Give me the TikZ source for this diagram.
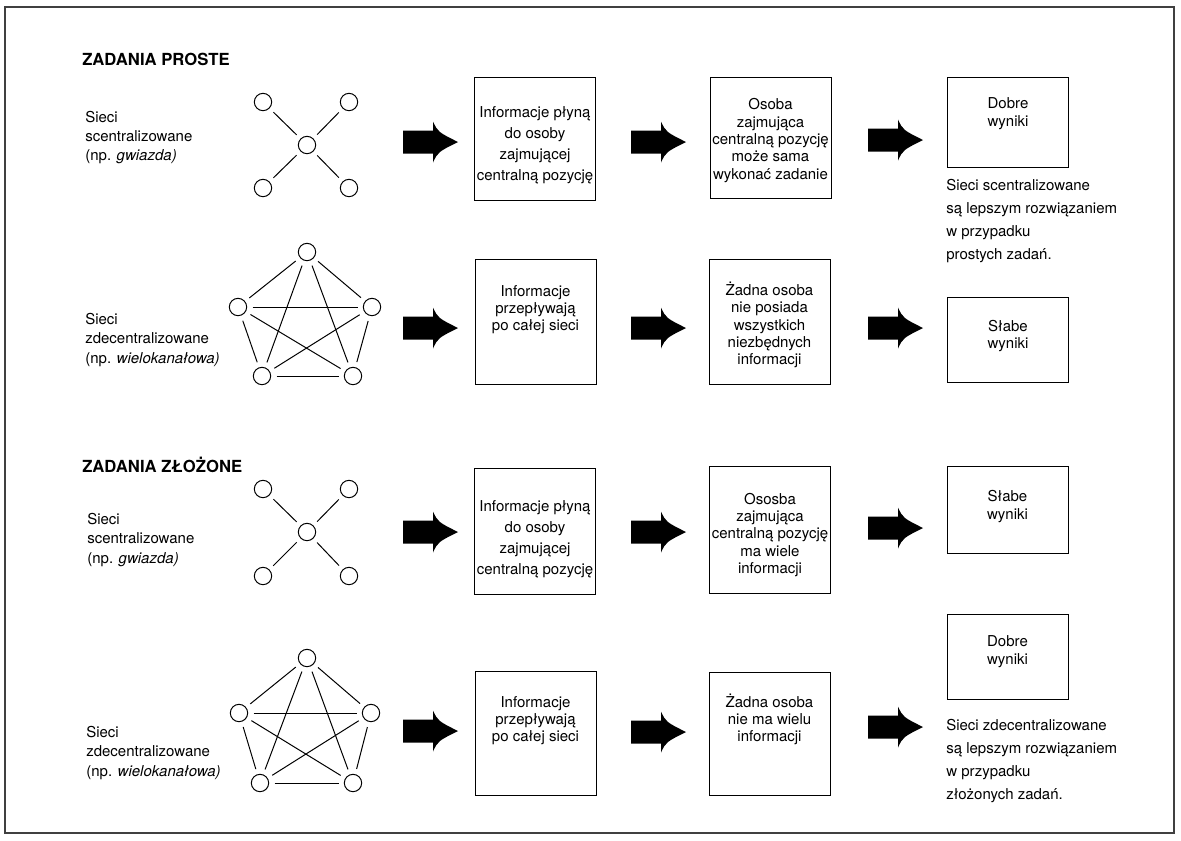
\documentclass[tikz,border=0pt]{standalone}
\usepackage{fontspec}
\setmainfont{TeX Gyre Heros}
\tikzset{
  dot/.style={draw,circle,line width=0.75pt,minimum size=13pt,inner sep=0pt},
  edge/.style={line width=0.75pt,shorten >=4pt,shorten <=4pt},
  box/.style={draw,line width=0.75pt,minimum width=90.75pt,inner sep=0pt},
  boxtxt/.style={align=center,inner sep=0pt,font=\fontsize{11.25}{13}\selectfont},
  widetxt/.style={align=center,inner sep=0pt,font=\fontsize{11.25}{15.75}\selectfont},
  lab/.style={align=left,anchor=west,inner sep=0pt,font=\fontsize{11.25}{14.6}\selectfont},
  note/.style={align=left,anchor=west,inner sep=0pt,font=\fontsize{11.25}{17.25}\selectfont},
  head/.style={anchor=west,inner sep=0pt,font=\fontsize{12.5}{15}\selectfont\bfseries},
  bigarrow/.pic={\fill (0,-11.5) -- (30,-11.5) -- (30,-20.5) .. controls (35,-10) .. (55,0)
      .. controls (35,10) .. (30,20.5) -- (30,11.5) -- (0,11.5) -- cycle;}
}
\begin{document}
\begin{tikzpicture}[x=0.75pt,y=-0.75pt]
    \useasboundingbox (0,0) rectangle (1181,840);
    \draw[line width=1pt,black!75] (5,7) rectangle (1174,833);

    % zadania proste
    \node[head] (head1) at (82,59) {ZADANIA PROSTE};
    \node[lab] (lab1) at (85,137.5) {Sieci\\scentralizowane\\(np. \textit{gwiazda)}};
    \node[dot] (s1c) at (307,145) {};
    \node[dot] (s1tl) at (263,102) {};
    \node[dot] (s1tr) at (349,102) {};
    \node[dot] (s1bl) at (263,188) {};
    \node[dot] (s1br) at (349,188) {};
    \foreach \s in {tl,tr,bl,br} \draw[edge] (s1c) -- (s1\s);

    \pic at (403,142) {bigarrow};
    \node[box,minimum height=92.25pt] (a1) at (534.5,138.5) {};
    \node[widetxt] (a1txt) at (535,145) {Informacje płyną\\do osoby\\zajmującej\\centralną pozycję};
    \pic at (631,142) {bigarrow};
    \node[box,minimum height=90.75pt] (b1) at (770.5,137.5) {};
    \node[boxtxt] (b1txt) at (770.5,140.5) {Osoba\\zajmująca\\centralną pozycję\\może sama\\wykonać zadanie};
    \pic at (868,140) {bigarrow};
    \node[box,minimum height=67.5pt] (c1) at (1008,122) {};
    \node[boxtxt] (c1txt) at (1008,113.5) {Dobre\\wyniki};
    \node[note] (note1) at (946,221.5) {Sieci scentralizowane\\są lepszym rozwiązaniem\\w przypadku\\prostych zadań.};

    \node[lab] (lab2) at (85,340) {Sieci\\zdecentralizowane\\(np. \textit{wielokanałowa)}};
    \node[dot] (p2t) at (307,252) {};
    \node[dot] (p2l) at (238,307) {};
    \node[dot] (p2r) at (372,307) {};
    \node[dot] (p2bl) at (262,376) {};
    \node[dot] (p2br) at (353,376) {};
    \foreach \a/\b in {t/l,t/r,t/bl,t/br,l/r,l/bl,l/br,r/bl,r/br,bl/br}
        \draw[edge] (p2\a) -- (p2\b);

    \pic at (403,328) {bigarrow};
    \node[box,minimum height=93.75pt] (a2) at (535.5,321.5) {};
    \node[boxtxt] (a2txt) at (535.5,309.5) {Informacje\\przepływają\\po całej sieci};
    \pic at (631,328) {bigarrow};
    \node[box,minimum height=93.75pt] (b2) at (769.5,321.5) {};
    \node[boxtxt] (b2txt) at (769.5,325) {Żadna osoba\\nie posiada\\wszystkich\\niezbędnych\\informacji};
    \pic at (868,328) {bigarrow};
    \node[box,minimum height=63.75pt] (c2) at (1008,339.5) {};
    \node[boxtxt] (c2txt) at (1008,336) {Słabe\\wyniki};

    % zadania zlozone
    \node[head] (head2) at (82,465) {ZADANIA ZŁOŻONE};
    \node[lab] (lab3) at (87,540) {Sieci\\scentralizowane\\(np. \textit{gwiazda)}};
    \node[dot] (s3c) at (307,532) {};
    \node[dot] (s3tl) at (263,489) {};
    \node[dot] (s3tr) at (349,489) {};
    \node[dot] (s3bl) at (263,576) {};
    \node[dot] (s3br) at (349,576) {};
    \foreach \s in {tl,tr,bl,br} \draw[edge] (s3c) -- (s3\s);

    \pic at (403,532) {bigarrow};
    \node[box,minimum height=94.5pt] (a3) at (535,531) {};
    \node[widetxt] (a3txt) at (535,539.5) {Informacje płyną\\do osoby\\zajmującej\\centralną pozycję};
    \pic at (631,532) {bigarrow};
    \node[box,minimum height=95.25pt] (b3) at (770,529.5) {};
    \node[boxtxt] (b3txt) at (770,535) {Ososba\\zajmująca\\centralną pozycję\\ma wiele\\informacji};
    \pic at (868,528) {bigarrow};
    \node[box,minimum height=65.25pt] (c3) at (1007.5,509.5) {};
    \node[boxtxt] (c3txt) at (1007.5,506.5) {Słabe\\wyniki};

    \node[lab] (lab4) at (86,753) {Sieci\\zdecentralizowane\\(np. \textit{wielokanałowa)}};
    \node[dot] (p4t) at (307,658) {};
    \node[dot] (p4l) at (239,713) {};
    \node[dot] (p4r) at (371,713) {};
    \node[dot] (p4bl) at (260,783) {};
    \node[dot] (p4br) at (353,783) {};
    \foreach \a/\b in {t/l,t/r,t/bl,t/br,l/r,l/bl,l/br,r/bl,r/br,bl/br}
        \draw[edge] (p4\a) -- (p4\b);

    \pic at (403,731) {bigarrow};
    \node[box,minimum height=93pt] (a4) at (535.5,733) {};
    \node[boxtxt] (a4txt) at (535.5,720.5) {Informacje\\przepływają\\po całej sieci};
    \pic at (631,732) {bigarrow};
    \node[box,minimum height=92.25pt] (b4) at (769.5,733.5) {};
    \node[boxtxt] (b4txt) at (769.5,719.5) {Żadna osoba\\nie ma wielu\\informacji};
    \pic at (868,727) {bigarrow};
    \node[box,minimum height=63.75pt] (c4) at (1007.5,656.5) {};
    \node[boxtxt] (c4txt) at (1007.5,651.5) {Dobre\\wyniki};
    \node[note] (note4) at (946,761) {Sieci zdecentralizowane\\są lepszym rozwiązaniem\\w przypadku\\złożonych zadań.};
\end{tikzpicture}
\end{document}
